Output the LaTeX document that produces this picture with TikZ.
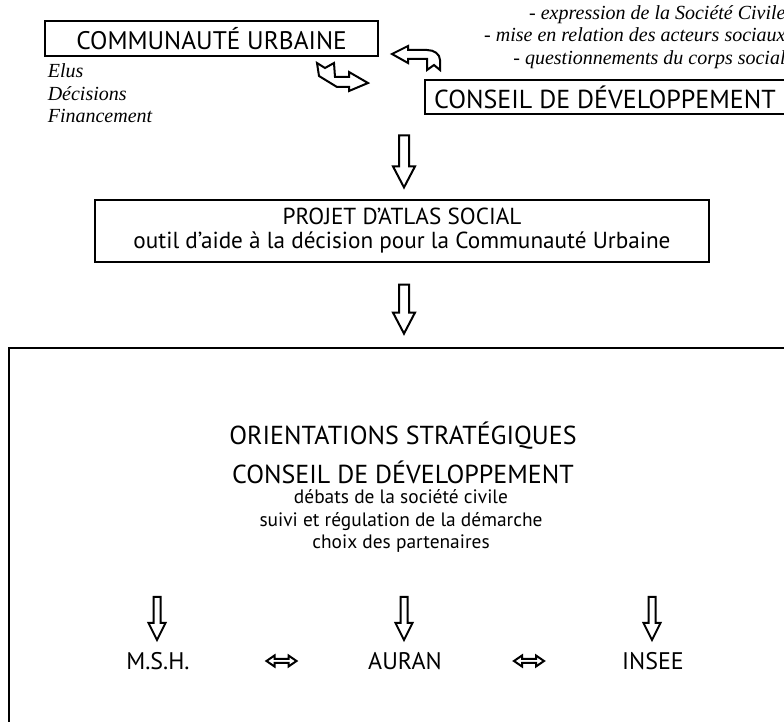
\documentclass[tikz,border=0pt]{standalone}
\usepackage{fontspec}
\setmainfont{PT Sans}
\newfontfamily\serifit{Liberation Serif}
\usepackage{tikz}
\usetikzlibrary{arrows.meta, positioning, calc}

% flèche creuse verticale : départ, pointe, demi-largeur tige, demi-largeur tête, longueur tête
\newcommand{\hollowdown}[5]{%
    \draw[blockline] ($(#1)+(-#3,0)$) -- ($(#2)+(-#3,-#5)$) -- ($(#2)+(-#4,-#5)$) -- (#2)
        -- ($(#2)+(#4,-#5)$) -- ($(#2)+(#3,-#5)$) -- ($(#1)+(#3,0)$) -- cycle;}
% flèche creuse double horizontale
\newcommand{\hollowboth}[1]{%
    \draw[blockline, shift={(#1)}] (-15,0) -- (-7,-5.5) -- (-7,-2) -- (7,-2) -- (7,-5.5) -- (15,0)
        -- (7,5.5) -- (7,2) -- (-7,2) -- (-7,5.5) -- cycle;}

\begin{document}
\begin{tikzpicture}[x=0.5pt, y=-0.5pt,
    boxnode/.style={draw, line width=0.6pt, inner sep=0pt, font=\fontsize{12.7}{12}\selectfont},
    capsnode/.style={inner sep=0pt, font=\fontsize{13}{13}\selectfont},
    smallnode/.style={inner sep=0pt, align=center, font=\fontsize{9.7}{11.25}\selectfont},
    notes/.style={inner sep=0pt, font=\serifit\itshape\fontsize{10}{11.25}\selectfont},
    blockline/.style={line width=1pt, line join=miter}]
    \useasboundingbox (0,0) rectangle (784,722);
    \clip (0,0) rectangle (784,722);

    % Communauté urbaine et conseil
    \node[boxnode, minimum width=166.5pt, minimum height=17.5pt] (cu) at (211.5,38.5) {COMMUNAUTÉ URBAINE};
    \node[notes, anchor=north west, align=left] (elus) at ($(cu.south west)+(3,7)$) {Elus\\Décisions\\Financement};
    \node[boxnode, font=\fontsize{13}{13}\selectfont, minimum width=180pt, minimum height=17pt] (cd) at (605,97) {CONSEIL DE DÉVELOPPEMENT};
    \node[notes, anchor=east, align=right] (roles) at (786,37) {- expression de la Société Civile\\- mise en relation des acteurs sociaux\\- questionnements du corps social};

    % échanges
    \draw[blockline] (317,63) -- (325,68) -- (334,63) -- (335,77) -- (349,77) -- (349,72) -- (368,83)
        -- (349,91) -- (349,87) -- (337,87) -- (319,76) -- cycle;
    \draw[blockline] (392,54) -- (408,46) -- (408,50) -- (427,50) .. controls (434,50) and (440,54) .. (440,60)
        -- (440,70) -- (434,65) -- (427,70) -- (427,59) -- (408,59) -- (408,63) -- cycle;

    % projet
    \node[boxnode, font=\fontsize{11.6}{12}\selectfont, align=center, minimum width=307pt, minimum height=31pt] (projet) at (402,231)
        {PROJET D’ATLAS SOCIAL\\outil d’aide à la décision pour la Communauté Urbaine};
    \coordinate (a1s) at ($(projet.north)+(2,-64)$);
    \coordinate (a1e) at ($(projet.north)+(2,-12)$);
    \hollowdown{a1s}{a1e}{5}{11}{21}

    % orientations
    \draw[line width=0.9pt] (9,900) -- (9,348) -- (900,348);
    \coordinate (a2s) at ($(projet.south)+(2,22)$);
    \coordinate (a2e) at ($(projet.south)+(2,71)$);
    \hollowdown{a2s}{a2e}{5}{11}{21}
    \node[capsnode] (orient) at (403,436) {ORIENTATIONS STRATÉGIQUES};
    \node[capsnode] (cdtitle) at (403,472) {CONSEIL DE DÉVELOPPEMENT};
    \node[smallnode] (cdtasks) at (401,521) {débats de la société civile\\suivi et régulation de la démarche\\choix des partenaires};

    % partenaires
    \node[capsnode, font=\fontsize{12}{12}\selectfont] (msh) at (158,661) {M.S.H.};
    \node[capsnode, font=\fontsize{12}{12}\selectfont] (auran) at (405,661) {AURAN};
    \node[capsnode, font=\fontsize{12}{12}\selectfont] (insee) at (653,661) {INSEE};
    \foreach \p in {msh, auran, insee} {
        \coordinate (\p s) at ($(\p)+(-1,-64)$);
        \coordinate (\p e) at ($(\p)+(-1,-21)$);
        \hollowdown{\p s}{\p e}{3.5}{8.5}{17}
    }
    \hollowboth{$(msh)!0.5!(auran)$}
    \hollowboth{$(auran)!0.5!(insee)$}
\end{tikzpicture}
\end{document}
